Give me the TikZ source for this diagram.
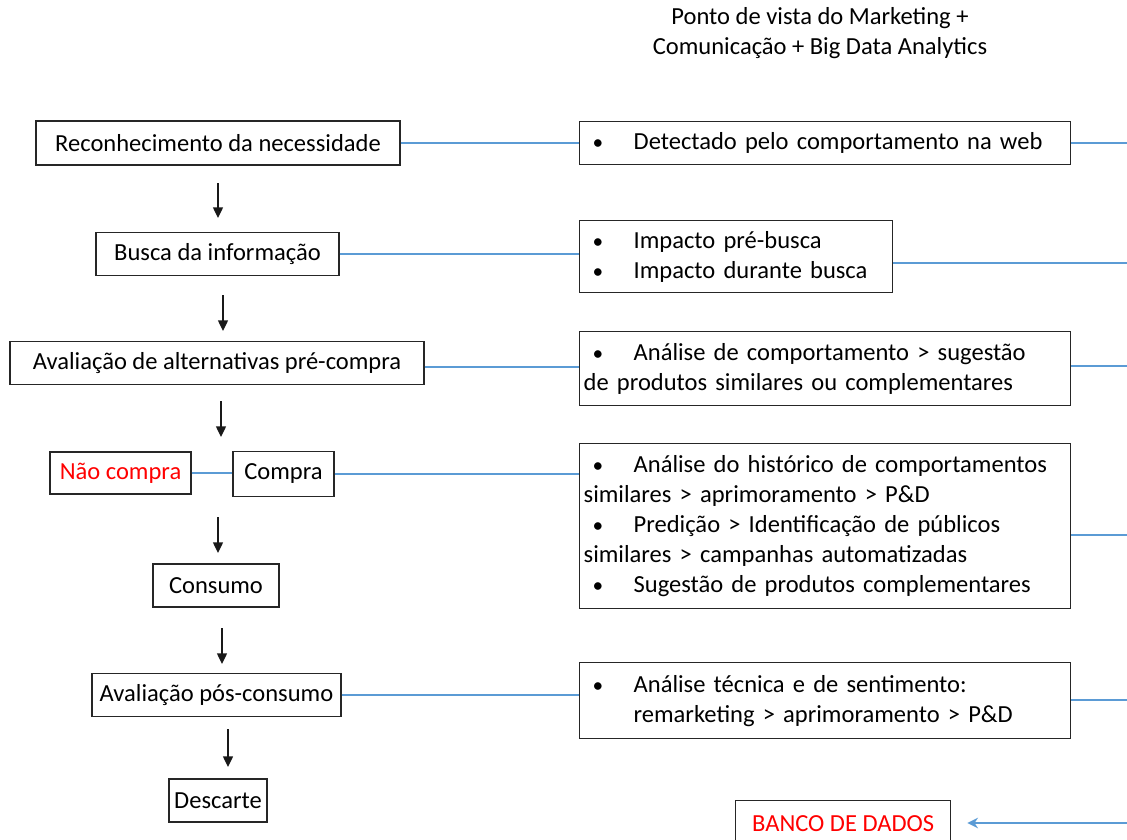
\documentclass[tikz,border=0pt]{standalone}
\usepackage{fontspec}
\setmainfont{Carlito}
\usetikzlibrary{arrows.meta}
\definecolor{lineblue}{RGB}{91,155,213}
\definecolor{nred}{RGB}{255,0,0}
\newcommand{\bul}{\makebox[37.5pt][l]{\hspace{6.75pt}{\fontsize{16}{22.5}\selectfont •}}}
\newcommand{\ind}{\hspace*{37.5pt}}
\begin{document}
\begin{tikzpicture}[x=0.75pt,y=-0.75pt,
  font=\fontsize{18.4}{22.5}\selectfont,
  lbox/.style={draw=black!85, line width=1pt, inner sep=0pt, align=center},
  rbox/.style={draw=black!85, line width=1pt, anchor=north west, align=left,
    inner xsep=3pt, inner ysep=0pt, text width=362.25pt},
  link/.style={draw=lineblue, line width=1.1pt},
  arr/.style={-{Triangle[width=7.5pt,length=8pt]}, line width=1pt, black!90},
  barr/.style={-{Stealth[width=8pt,length=8pt]}, line width=1.1pt, lineblue},
]
\useasboundingbox (0,0) rectangle (1127,839);

% title
\node[align=center] (title) at (820,33) {Ponto de vista do Marketing +\\Comunicação + Big Data Analytics};

% left column
\node[lbox, minimum width=273pt, minimum height=33pt] (A) at (218,143) {Reconhecimento da necessidade};
\node[lbox, minimum width=182.25pt, minimum height=32.25pt] (B) at (217.5,254) {Busca da informação};
\node[lbox, minimum width=310.5pt, minimum height=32.25pt] (C) at (217,363) {Avaliação de alternativas pré-compra};
\node[lbox, minimum width=105.75pt, minimum height=31.5pt, text=nred] (N) at (120.5,473) {Não compra};
\node[lbox, minimum width=75.75pt, minimum height=33.75pt] (Co) at (283.5,474) {Compra};
\node[lbox, minimum width=94.5pt, minimum height=32.25pt] (Cons) at (216,585.5) {Consumo};
\node[lbox, minimum width=186.75pt, minimum height=32.25pt] (P) at (216.5,695) {Avaliação pós-consumo};
\node[lbox, minimum width=73.5pt, minimum height=32.25pt] (D) at (218,800.5) {Descarte};

% right column
\node[rbox, minimum height=32.25pt] (R1) at (579,121) {\bul Detectado pelo comportamento na web};
\node[rbox, minimum height=54pt, text width=228.75pt] (R2) at (579,220) {\bul Impacto pré-busca\\\bul Impacto durante busca};
\node[rbox, minimum height=55.5pt] (R3) at (579,331) {\bul Análise de comportamento > sugestão\\de produtos similares ou complementares};
\node[rbox, minimum height=123.75pt] (R4) at (579,443) {\bul Análise do histórico de comportamentos\\similares > aprimoramento > P\&D\\\bul Predição > Identificação de públicos\\similares > campanhas automatizadas\\\bul Sugestão de produtos complementares};
\node[rbox, minimum height=57pt] (R5) at (579,662) {\bul Análise técnica e de sentimento:\\\ind remarketing > aprimoramento > P\&D};
\node[lbox, anchor=north west, minimum width=161.25pt, minimum height=34pt, text=nred] (DB) at (735,800) {BANCO DE DADOS};

% down arrows
\coordinate (a1s) at (218,183); \coordinate (a1e) at (218,218);
\coordinate (a2s) at (223,295); \coordinate (a2e) at (223,331);
\coordinate (a3s) at (221,401); \coordinate (a3e) at (221,437);
\coordinate (a4s) at (218,517); \coordinate (a4e) at (218,553);
\coordinate (a5s) at (222,628); \coordinate (a5e) at (222,664);
\coordinate (a6s) at (228,729); \coordinate (a6e) at (228,767);
\draw[arr] (a1s) -- (a1e);
\draw[arr] (a2s) -- (a2e);
\draw[arr] (a3s) -- (a3e);
\draw[arr] (a4s) -- (a4e);
\draw[arr] (a5s) -- (a5e);
\draw[arr] (a6s) -- (a6e);

% links left -> right
\draw[link] (A.east) -- (A.east -| R1.west);
\draw[link] (B.east) -- (B.east -| R2.west);
\draw[link] ([yshift=-3pt]C.east) -- ([yshift=-3pt]C.east -| R3.west);
\draw[link] (N.east) -- (N.east -| Co.west);
\draw[link] (Co.east) -- (Co.east -| R4.west);
\draw[link] (P.east) -- (P.east -| R5.west);

% links to the right edge
\coordinate (e1) at (1127,143);
\coordinate (e2) at (1127,263);
\coordinate (e3) at (1127,366);
\coordinate (e4) at (1127,535);
\coordinate (e5) at (1127,700);
\coordinate (e6) at (1127,823);
\draw[link] (R1.east |- e1) -- (e1);
\draw[link] (R2.east |- e2) -- (e2);
\draw[link] (R3.east |- e3) -- (e3);
\draw[link] (R4.east |- e4) -- (e4);
\draw[link] (R5.east |- e5) -- (e5);
\draw[barr, shorten >=12pt] (e6) -- (e6 -| DB.east);
\end{tikzpicture}
\end{document}
